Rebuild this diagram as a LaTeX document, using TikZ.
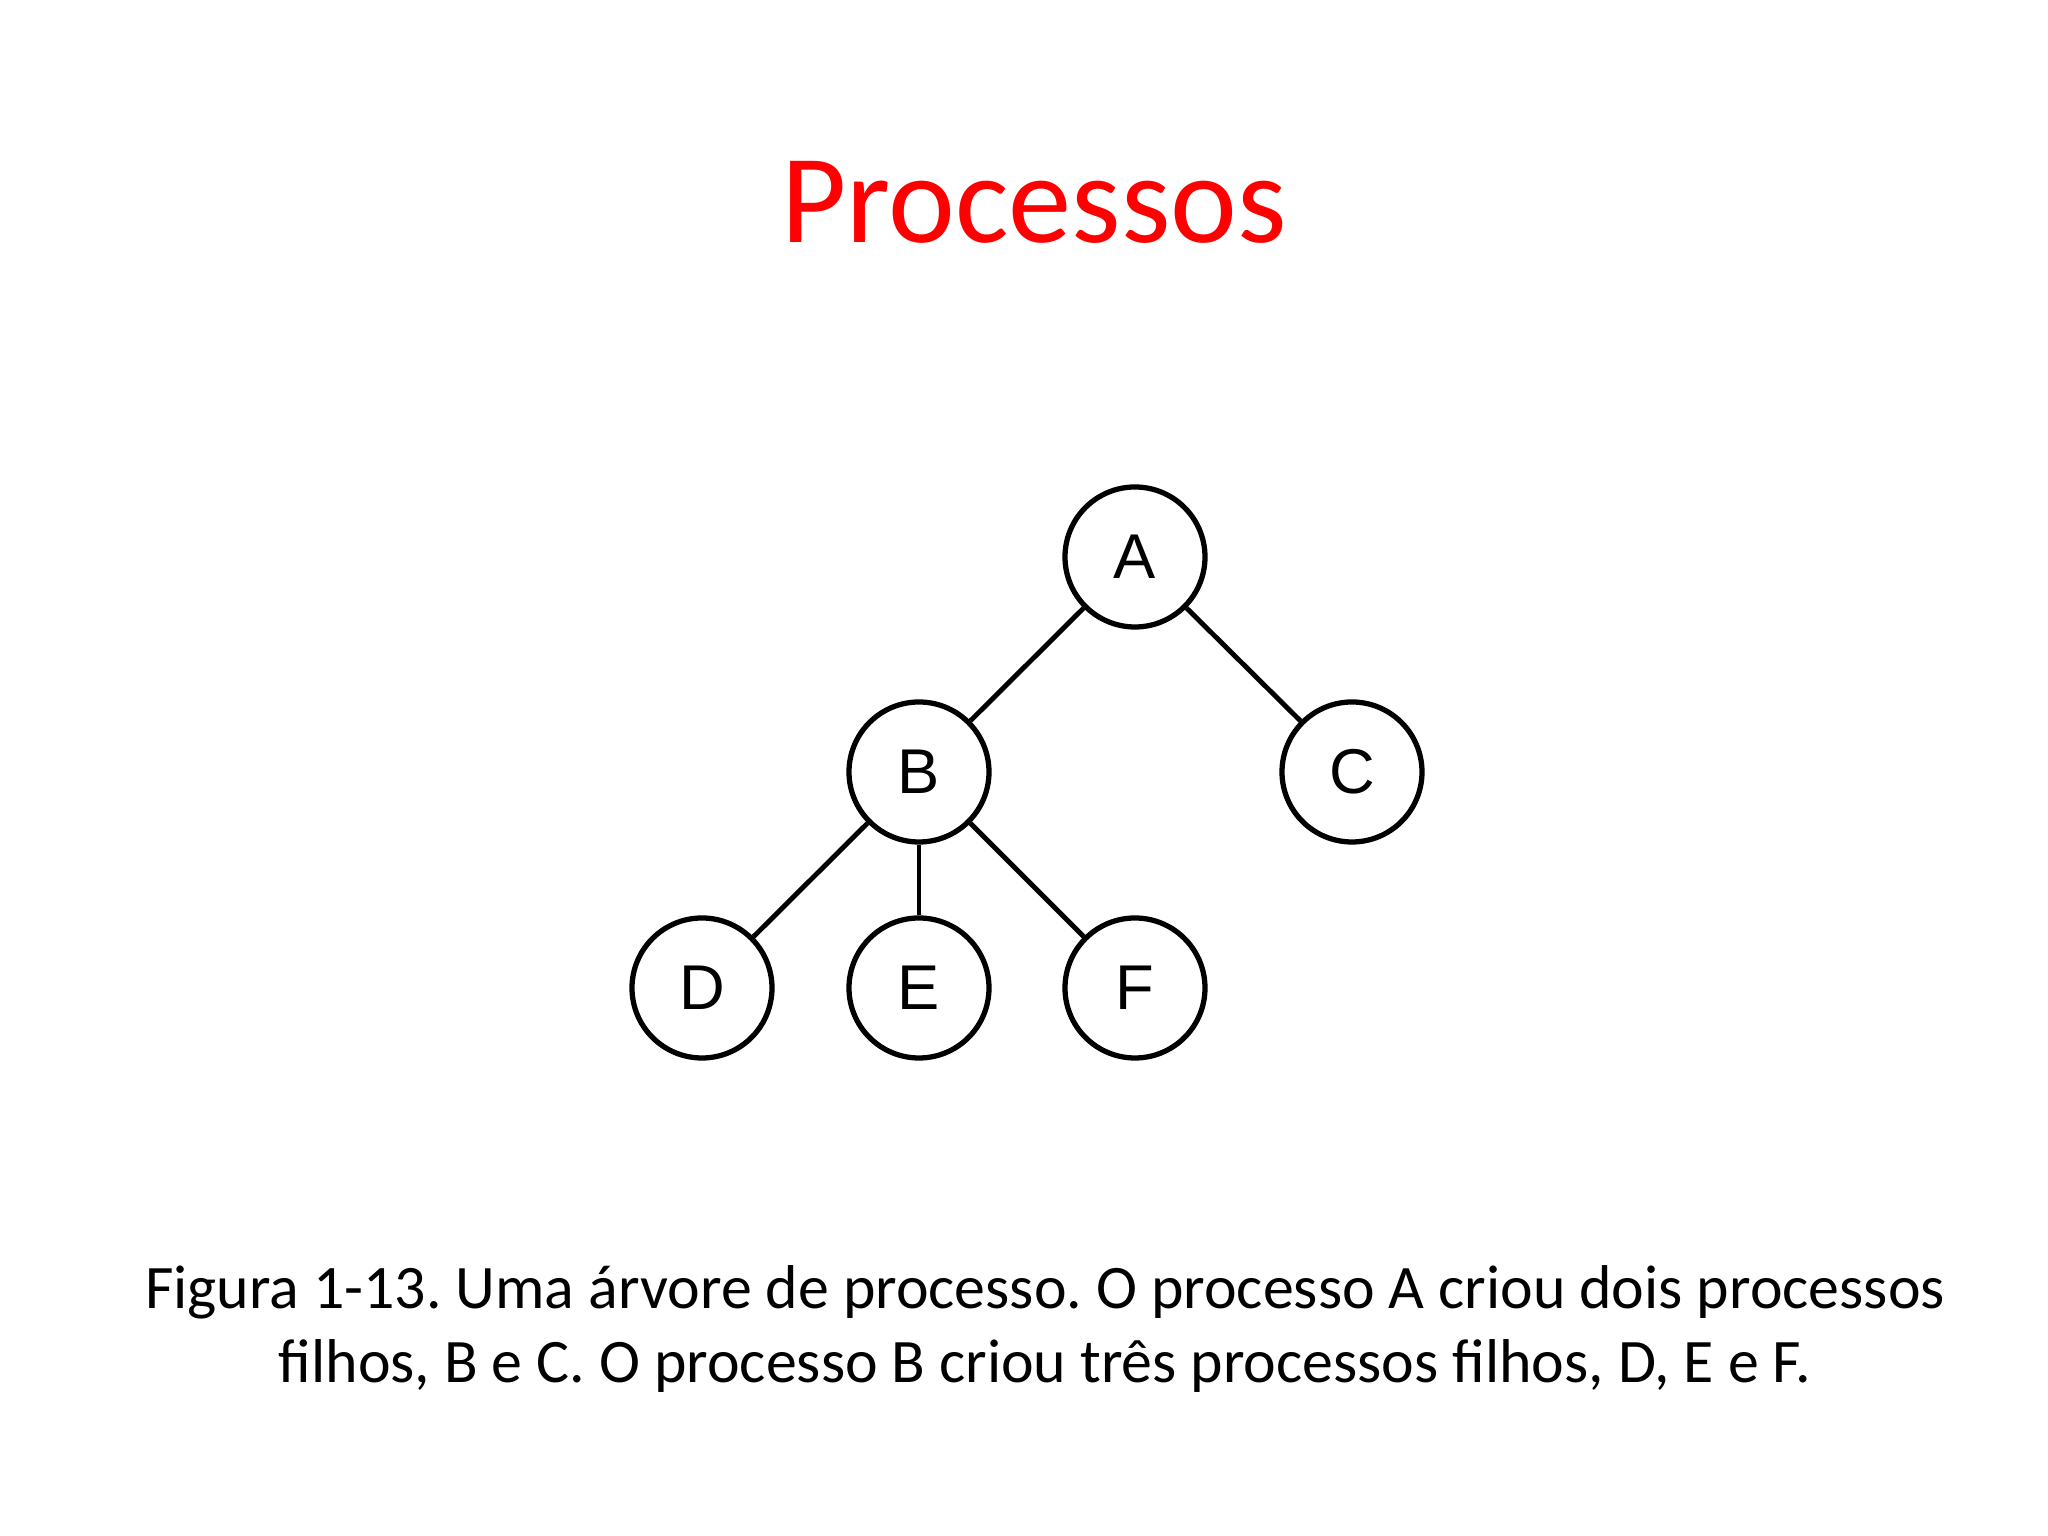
\documentclass[tikz,border=0pt]{standalone}
\usepackage{fontspec}
\setmainfont{Carlito}
\newfontfamily\nodefont{Liberation Sans}
\begin{document}
\frenchspacing
\begin{tikzpicture}[
  proc/.style={circle,draw,line width=1.5pt,minimum size=1.4cm,inner sep=0pt,font=\nodefont\fontsize{18}{20}\selectfont},
  edge/.style={line width=1.4pt}]
\useasboundingbox[fill=white] (0,0) rectangle (20.48,15.36);
\node[text=red,font=\fontsize{36}{42}\selectfont] (title) at (10.34,13.34) {Processos};
\node[proc] (A) at (11.35,9.79) {A};
\node[proc] (B) at (9.19,7.64) {B};
\node[proc] (C) at (13.52,7.64) {C};
\node[proc] (D) at (7.02,5.48) {D};
\node[proc] (E) at (9.19,5.48) {E};
\node[proc] (F) at (11.35,5.48) {F};
\draw[edge] (A) -- (B);
\draw[edge] (A) -- (C);
\draw[edge] (B) -- (D);
\draw[edge] (B) -- (E);
\draw[edge] (B) -- (F);
\node[align=center,font=\fontsize{17.6}{21.3}\selectfont] (cap) at (10.45,2.07) {Figura 1-13. Uma árvore de processo. O processo A criou dois processos\\filhos, B e C. O processo B criou três processos filhos, D, E e F.};
\end{tikzpicture}
\end{document}
